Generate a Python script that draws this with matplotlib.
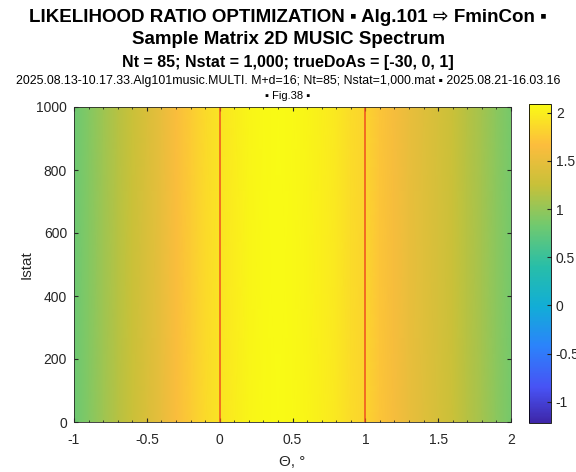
import numpy as np
import matplotlib
matplotlib.use('Agg')
import matplotlib.pyplot as plt
from matplotlib.colors import LinearSegmentedColormap
from matplotlib.ticker import MultipleLocator, FuncFormatter

# spectrum along theta (same for every Istat row)
theta = [-1.0, -0.9, -0.8, -0.7, -0.6, -0.5, -0.4, -0.3, -0.2, -0.1, 0.0,
         0.1, 0.2, 0.3, 0.4, 0.5, 0.6, 0.7, 0.8, 0.9, 1.0,
         1.1, 1.2, 1.3, 1.4, 1.5, 1.6, 1.7, 1.8, 1.9, 2.0]
spectrum = [0.80, 0.92, 1.05, 1.16, 1.27, 1.38, 1.50, 1.64, 1.76, 1.86, 1.93,
            1.99, 2.04, 2.07, 2.08, 2.07, 2.04, 2.00, 1.95, 1.88, 1.82,
            1.72, 1.62, 1.52, 1.44, 1.36, 1.27, 1.17, 1.07, 0.96, 0.85]
istat = [1, 1000]
true_doas = [0, 1]
clim = (-1.22, 2.09)

parula_pts = [
  (0.00, (0.2422, 0.1504, 0.6603)),
  (0.11, (0.2810, 0.3228, 0.9579)),
  (0.24, (0.1707, 0.5127, 0.9840)),
  (0.365, (0.0689, 0.6800, 0.8400)),
  (0.49, (0.1540, 0.7450, 0.6600)),
  (0.62, (0.4420, 0.7900, 0.4340)),
  (0.746, (0.7800, 0.7560, 0.2230)),
  (0.873, (0.9900, 0.7400, 0.2400)),
  (1.00, (0.9769, 0.9839, 0.0805)),
]
parula = LinearSegmentedColormap.from_list('parula', parula_pts)

def fmt(v, pos):
  return '{:g}'.format(v)

plt.rcParams['font.family'] = ['Liberation Sans', 'DejaVu Sans']
W, H = 576, 472
fig = plt.figure(figsize=(W/100, H/100), dpi=100)

ax = fig.add_axes([74/W, (H-422)/H, 437/W, 315/H])
Z = np.tile(np.array(spectrum), (len(istat), 1))
im = ax.pcolormesh(theta, istat, Z, shading='gouraud', cmap=parula,
                   vmin=clim[0], vmax=clim[1])
for d in true_doas:
  ax.axvline(d, color='#f0501e', lw=1.1)
ax.set_xlim(-1, 2)
ax.set_ylim(0, 1000)
ax.xaxis.set_minor_locator(MultipleLocator(0.1))
ax.xaxis.set_major_formatter(FuncFormatter(fmt))
ax.tick_params(which='both', direction='in', top=True, right=True,
               labelsize=10, colors='#262626')
ax.tick_params(which='major', length=3)
ax.tick_params(which='minor', length=1.5)
ax.tick_params(axis='x', pad=8)
ax.tick_params(axis='y', pad=5)
for s in ax.spines.values():
  s.set_color('#262626')
  s.set_linewidth(0.6)
ax.set_xlabel('Θ, °', fontsize=11, color='#262626', labelpad=6)
ax.set_ylabel('Istat', fontsize=11, color='#262626', labelpad=2)

cax = fig.add_axes([529/W, (H-423)/H, 22/W, 319/H])
cb = fig.colorbar(im, cax=cax)
cb.set_ticks([-1, -0.5, 0, 0.5, 1, 1.5, 2])
cb.set_ticklabels(['-1', '-0.5', '0', '0.5', '1', '1.5', '2'])
cax.tick_params(direction='in', length=3, labelsize=10, colors='#262626')
cb.outline.set_linewidth(0.6)

fig.text(0.5, 1 - 17/H, 'LIKELIHOOD RATIO OPTIMIZATION ▪ Alg.101 ⇨ FminCon ▪',
         ha='center', va='center', fontsize=13.5, fontweight='bold')
fig.text(0.5, 1 - 40/H, 'Sample Matrix 2D MUSIC Spectrum',
         ha='center', va='center', fontsize=13.5, fontweight='bold')
fig.text(0.5, 1 - 63/H, 'Nt = 85; Nstat = 1,000; trueDoAs = [-30, 0, 1]',
         ha='center', va='center', fontsize=11.5, fontweight='bold')
fig.text(0.5, 1 - 81/H,
         '2025.08.13-10.17.33.Alg101music.MULTI. M+d=16; Nt=85; Nstat=1,000.mat ▪ 2025.08.21-16.03.16',
         ha='center', va='center', fontsize=8.9)
fig.text(0.5, 1 - 96/H, '▪ Fig.38 ▪', ha='center', va='center', fontsize=8)

fig.savefig('out.png', dpi=100)
